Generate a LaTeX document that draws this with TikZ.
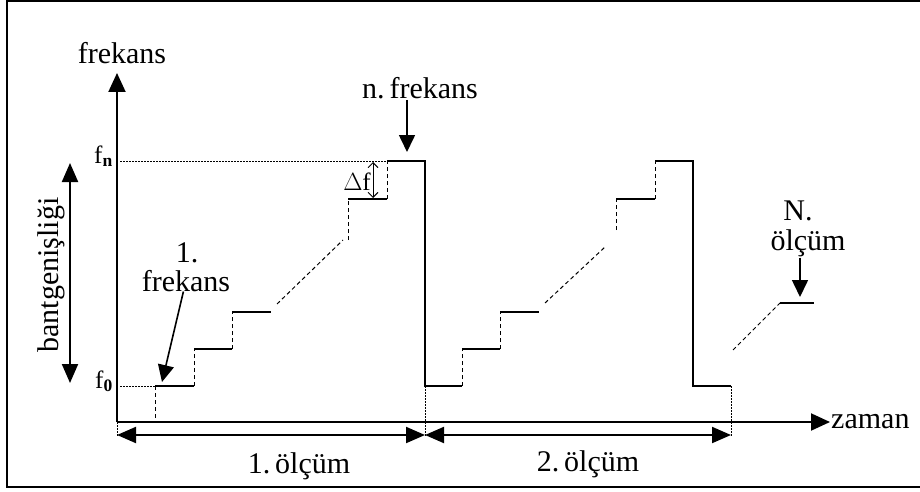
\documentclass[tikz,border=0pt]{standalone}
\usepackage{fontspec}
\setmainfont{Liberation Serif}
\usetikzlibrary{arrows.meta,positioning}
\tikzset{
  stepLine/.style   = {line width=2pt},
  stepDash/.style   = {line width=1pt, dash pattern=on 4pt off 3pt},
  guideDot/.style   = {line width=0.8pt, dash pattern=on 1.5pt off 1.5pt},
  axisArrow/.style  = {-{Triangle[length=19pt,width=17pt]}, line width=2pt},
  dimArrow/.style   = {{Triangle[length=19pt,width=16pt]}-{Triangle[length=19pt,width=16pt]},
                       line width=2pt},
  pointArrow/.style = {-{Triangle[length=17pt,width=16pt]}, line width=1.6pt},
  deltaArrow/.style = {{Straight Barb[length=5pt,width=10pt]}-{Straight Barb[length=5pt,width=10pt]},
                       line width=0.9pt},
  lbl/.style        = {font=\fontsize{30}{26}\selectfont, inner sep=1pt},
  fLbl/.style       = {font=\fontsize{25}{25}\selectfont, inner sep=1pt},
}

\begin{document}
\begin{tikzpicture}[x=1pt,y=-1pt]
  \clip (0,0) rectangle (920,492);
  \draw[line width=2pt] (7,1) rectangle (935,487);

  % axes
  \coordinate (o) at (117,422);
  \coordinate (yTop) at (117,73);
  \coordinate (xEnd) at (830,422);
  \draw[axisArrow] (o) -- (yTop);
  \draw[axisArrow] (o) -- (xEnd);
  \node[lbl] (yLbl) at (122,53) {frekans};
  \node[lbl,anchor=west] (xLbl) at (xEnd) {zaman};

  % f0 / fn levels
  \node[fLbl,anchor=base east] (fn) at (114,163) {f\textsubscript{\textbf{n}}};
  \node[fLbl,anchor=base east] (f0) at (114,388) {f\textsubscript{\textbf{0}}};
  \draw[guideDot] (120,161) -- (387,161);
  \draw[guideDot] (120,386) -- (155,386);

  % bandwidth
  \coordinate (bwTop) at (70,163);
  \coordinate (bwBot) at (70,383);
  \draw[dimArrow] (bwBot) -- (bwTop);
  \node[lbl,rotate=90] (bwLbl) at (51,275) {bantgenişliği};

  % first sweep
  \draw[stepLine] (155,386) -- (194,386);
  \draw[stepLine] (194,349) -- (232,349);
  \draw[stepLine] (232,312) -- (271,312);
  \draw[stepLine] (348,199) -- (387,199);
  \draw[stepLine] (387,161) -- (425,161) -- (425,386) -- (462,386);
  \draw[stepDash] (155,386) -- (155,420);
  \draw[stepDash] (194,386) -- (194,349);
  \draw[stepDash] (232,349) -- (232,312);
  \draw[stepDash] (277,304) -- (343,240);
  \draw[stepDash] (348,240) -- (348,199);
  \draw[stepDash] (387,199) -- (387,161);

  % delta f
  \coordinate (dfTop) at (373,162);
  \coordinate (dfBot) at (373,198);
  \draw[deltaArrow] (dfTop) -- (dfBot);
  \node[fLbl,anchor=east] (dfLbl) at (372,182) {$\Delta$f};

  % second sweep
  \draw[stepLine] (462,349) -- (500,349);
  \draw[stepLine] (500,312) -- (539,312);
  \draw[stepLine] (616,199) -- (655,199);
  \draw[stepLine] (655,161) -- (693,161) -- (693,386) -- (731,386);
  \draw[stepDash] (462,386) -- (462,349);
  \draw[stepDash] (500,349) -- (500,312);
  \draw[stepDash] (545,303) -- (605,247);
  \draw[stepDash] (616,230) -- (616,199);
  \draw[stepDash] (655,199) -- (655,161);

  % N-th sweep
  \draw[stepDash] (733,350) -- (780,303);
  \draw[stepLine] (780,303) -- (814,303);

  % pointers
  \node[lbl] (nLbl) at (420,88) {n.\,frekans};
  \coordinate (nTip) at (407,152);
  \draw[pointArrow] (nLbl.south -| nTip) -- (nTip);
  \node[lbl,anchor=base,inner sep=0pt] (oneNum) at (187,262) {1.};
  \node[lbl,anchor=base,inner sep=0pt] (oneLbl) at (186,291) {frekans};
  \coordinate (oneTip) at (162,382);
  \draw[pointArrow] (oneLbl) -- (oneTip);
  \node[lbl,anchor=base] (bigN) at (798,220) {N.};
  \node[lbl,anchor=base] (bigNLbl) at (808,250) {ölçüm};
  \coordinate (bigNTip) at (800,297);
  \draw[pointArrow] (bigNLbl.south -| bigNTip) -- (bigNTip);

  % measurement spans
  \coordinate (m0) at (117,435);
  \coordinate (m1) at (425,435);
  \coordinate (m2) at (731,435);
  \draw[guideDot] (o) -- ++(0,14);
  \draw[guideDot] (425,386) -- (425,437);
  \draw[guideDot] (731,386) -- (731,437);
  \draw[dimArrow] (m0) -- (m1);
  \draw[dimArrow] (m1) -- (m2);
  \node[lbl] (mOne) at (299,466) {1.\,ölçüm};
  \node[lbl] (mTwo) at (588,464) {2.\,ölçüm};
\end{tikzpicture}
\end{document}
